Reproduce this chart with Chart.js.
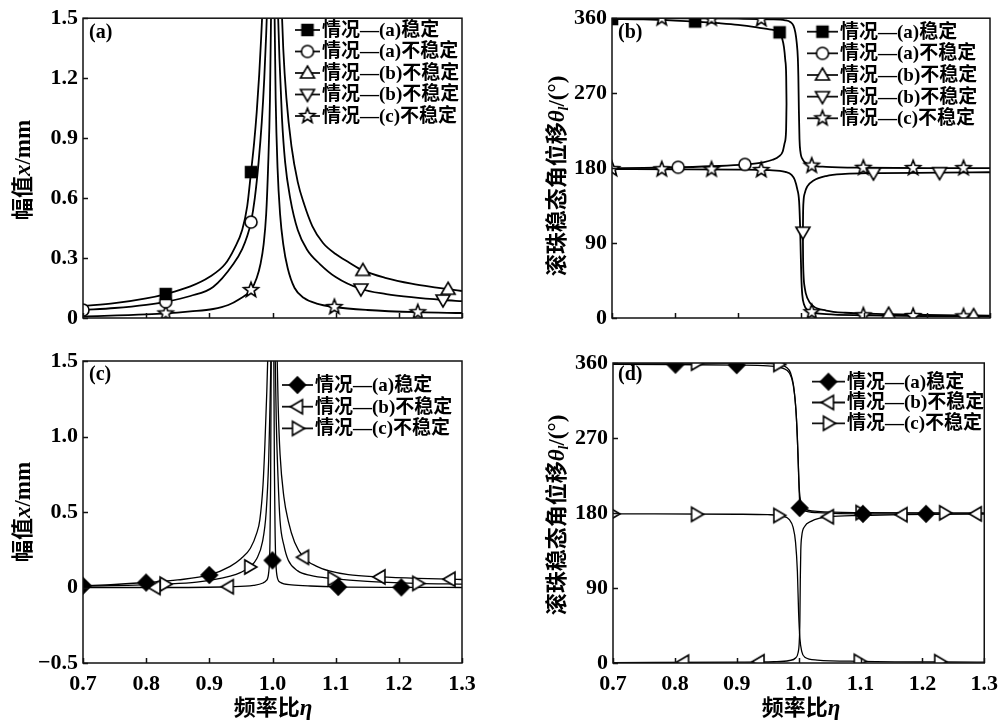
<!DOCTYPE html>
<html>
<head>
<meta charset="utf-8">
<script src="https://cdn.jsdelivr.net/npm/chart.js@4.4.1/dist/chart.umd.min.js"></script>
<style>
  html, body { margin: 0; padding: 0; background: #fff; }
  #wrap { position: relative; width: 1006px; height: 721px; overflow: hidden; }
  canvas { position: absolute; }
</style>
</head>
<body>
<div id="wrap">
  <canvas id="chartA" width="503" height="340" style="left:0;top:0"></canvas>
  <canvas id="chartB" width="503" height="340" style="left:503px;top:0"></canvas>
  <canvas id="chartC" width="503" height="381" style="left:0;top:340px"></canvas>
  <canvas id="chartD" width="503" height="381" style="left:503px;top:340px"></canvas>
</div>
<script>
// axis ticks
const etaTicks = [0.7, 0.8, 0.9, 1.0, 1.1, 1.2, 1.3];
const ampTicksA = [0, 0.3, 0.6, 0.9, 1.2, 1.5];
const ampTicksC = [-0.5, 0, 0.5, 1.0, 1.5];
const phaseTicks = [0, 90, 180, 270, 360];

const labelsAB = ['情况—(a)稳定', '情况—(a)不稳定', '情况—(b)不稳定', '情况—(b)不稳定', '情况—(c)不稳定'];
const labelsCD = ['情况—(a)稳定', '情况—(b)不稳定', '情况—(c)不稳定'];

// (a) amplitude x/mm vs eta
const ampA_aStable = [[0.7,0.060],[0.75,0.074],[0.8,0.098],[0.831,0.120],[0.87,0.158],[0.9,0.205],[0.925,0.27],[0.94,0.35],[0.952,0.44],[0.96,0.56],[0.966,0.73],[0.971,0.88],[0.975,1.03],[0.979,1.22],[0.982,1.40],[0.985,1.60]];
const ampA_aUnstable = [[0.7,0.040],[0.75,0.050],[0.8,0.066],[0.831,0.081],[0.87,0.110],[0.906,0.155],[0.938,0.27],[0.952,0.345],[0.96,0.41],[0.966,0.48],[0.972,0.60],[0.978,0.78],[0.983,0.98],[0.987,1.20],[0.990,1.42],[0.992,1.60]];
const ampA_bUp = [[1.014,1.60],[1.017,1.35],[1.022,1.10],[1.03,0.86],[1.04,0.68],[1.05,0.57],[1.063,0.46],[1.08,0.375],[1.1,0.32],[1.12,0.28],[1.143,0.238],[1.18,0.20],[1.22,0.172],[1.26,0.152],[1.278,0.144],[1.3,0.135]];
const ampA_bDown = [[1.008,1.60],[1.011,1.30],[1.015,1.00],[1.02,0.78],[1.028,0.60],[1.04,0.44],[1.055,0.34],[1.075,0.27],[1.1,0.205],[1.14,0.145],[1.18,0.12],[1.22,0.104],[1.27,0.090],[1.3,0.084]];
const ampA_cLeft = [[0.7,0.008],[0.8,0.018],[0.831,0.023],[0.87,0.033],[0.906,0.045],[0.93,0.065],[0.948,0.095],[0.966,0.14],[0.975,0.20],[0.981,0.27],[0.986,0.37],[0.99,0.52],[0.993,0.75],[0.996,1.10],[0.998,1.60]];
const ampA_cRight = [[1.003,1.60],[1.005,1.10],[1.008,0.75],[1.012,0.52],[1.017,0.37],[1.024,0.25],[1.035,0.15],[1.05,0.10],[1.07,0.072],[1.098,0.055],[1.15,0.040],[1.23,0.029],[1.3,0.025]];
const ampA_aStableMk = [[0.831,0.12],[0.966,0.73]];
const ampA_aUnstableMk = [[0.7,0.040],[0.831,0.081],[0.966,0.48]];
const ampA_bUpMk = [[1.143,0.238],[1.278,0.144]];
const ampA_bDownMk = [[1.14,0.145],[1.27,0.090]];
const ampA_cMk = [[0.831,0.023],[0.966,0.14],[1.098,0.055],[1.23,0.029]];

// (b) phase theta_l vs eta
const phB_aStable = [[0.7,359],[0.75,358.5],[0.8,357.2],[0.832,356],[0.87,354],[0.9,352],[0.93,349],[0.95,346.5],[0.966,343],[0.970,336],[0.973,325],[0.975,310],[0.9765,290],[0.977,257]];
const phB_aUnstable = [[0.7,180],[0.75,180.3],[0.805,181],[0.87,182.5],[0.911,184.4],[0.94,187],[0.955,190],[0.965,194],[0.971,200],[0.974,210],[0.9763,225],[0.977,257]];
const phB_bDown = [[1.003,100],[1.0033,125],[1.004,140],[1.006,150],[1.01,158],[1.02,165],[1.04,170.5],[1.07,173],[1.115,174],[1.22,174.5],[1.3,175]];
const phB_bUp = [[1.003,100],[1.0033,72],[1.004,52],[1.006,36],[1.01,24],[1.02,14],[1.04,9],[1.07,6.3],[1.139,4.6],[1.2,3.6],[1.274,3],[1.3,2.8]];
const phB_cHigh = [[0.7,360],[0.8,359.8],[0.9,359.4],[0.95,358.7],[0.975,357.5],[0.983,355.5],[0.988,351],[0.991,343],[0.993,332],[0.995,312],[0.9958,290],[0.9966,250],[0.9976,215],[0.999,200],[1.003,190],[1.01,185],[1.017,183],[1.04,181.5],[1.1,180.4],[1.2,180],[1.3,180]];
const phB_cLow = [[0.7,178.8],[0.8,178.6],[0.9,178.2],[0.95,177.5],[0.975,175.5],[0.985,172],[0.99,166],[0.994,155],[0.997,140],[0.9985,112],[0.9995,80],[1.0005,50],[1.002,28],[1.005,16],[1.01,10],[1.017,7],[1.04,4.6],[1.1,3.2],[1.2,2.2],[1.3,1.8]];
const phB_aStableMk = [[0.7,359],[0.832,356],[0.966,343]];
const phB_aUnstableMk = [[0.805,181],[0.911,184.4]];
const phB_bUpMk = [[1.139,4.6],[1.274,3]];
const phB_bDownMk = [[1.003,103],[1.115,174],[1.22,174.5]];
const phB_cMk = [[0.779,359.8],[0.858,359.6],[0.937,358.9],[1.017,183],[1.099,180.4],[1.178,180.1],[1.258,180],
                 [0.7,178.8],[0.779,178.6],[0.858,178.4],[0.937,177.7],[1.017,7],[1.099,3.2],[1.178,2.4],[1.258,2]];

// (c) amplitude x/mm vs eta
const ampC_aLeft = [[0.7,0.012],[0.75,0.02],[0.8,0.033],[0.85,0.05],[0.9,0.083],[0.933,0.14],[0.95,0.19],[0.965,0.26],[0.975,0.36],[0.98,0.45],[0.985,0.68],[0.988,0.95],[0.991,1.30],[0.993,1.60]];
const ampC_aRight = [[1.002,1.60],[1.003,0.80],[1.004,0.40],[1.005,0.20],[1.007,0.08],[1.012,0.035],[1.03,0.018],[1.06,0.010],[1.104,0.004],[1.2,0.001],[1.3,0.0]];
const ampC_bLeft = [[0.7,0.0],[0.814,0.0],[0.93,0.005],[0.97,0.014],[0.985,0.03],[0.99,0.045],[0.994,0.10],[0.996,0.30],[0.997,0.70],[0.998,1.60]];
const ampC_bRight = [[1.007,1.60],[1.009,1.20],[1.012,0.88],[1.018,0.60],[1.025,0.44],[1.035,0.30],[1.049,0.20],[1.07,0.14],[1.09,0.11],[1.12,0.085],[1.17,0.07],[1.23,0.06],[1.281,0.055],[1.3,0.053]];
const ampC_cLeft = [[0.7,0.008],[0.83,0.022],[0.88,0.035],[0.933,0.075],[0.95,0.10],[0.964,0.136],[0.975,0.19],[0.984,0.30],[0.99,0.50],[0.994,0.85],[0.996,1.20],[0.998,1.60]];
const ampC_cRight = [[1.004,1.60],[1.006,1.10],[1.009,0.70],[1.012,0.44],[1.018,0.28],[1.025,0.18],[1.04,0.11],[1.06,0.08],[1.096,0.059],[1.15,0.04],[1.23,0.027],[1.3,0.022]];
const ampC_aMk = [[0.7,0.012],[0.8,0.033],[0.9,0.083],[1.0,0.18],[1.104,0.004],[1.204,0.001]];
const ampC_bMk = [[0.814,0.0],[0.93,0.005],[1.049,0.20],[1.17,0.07],[1.281,0.055]];
const ampC_cMk = [[0.83,0.022],[0.964,0.136],[1.096,0.059],[1.23,0.027]];

// (d) phase theta_l vs eta
const phD_a = [[0.7,358.5],[0.8,358],[0.9,357.5],[0.95,356.5],[0.975,353.5],[0.985,348],[0.991,335],[0.995,310],[0.998,270],[1.0,225],[1.0015,196],[1.004,187],[1.01,182.5],[1.03,180.5],[1.1,179],[1.3,179]];
const phD_cHigh = [[0.7,360],[0.9,359.8],[0.95,359.3],[0.97,358],[0.98,355],[0.987,348],[0.992,332],[0.996,300],[0.999,250],[1.001,210],[1.004,192],[1.01,185],[1.03,182],[1.1,180.5],[1.3,180]];
const phD_cLow = [[0.7,179],[0.9,178.5],[0.95,178],[0.975,176],[0.985,172],[0.991,163],[0.995,145],[0.998,110],[1.0,60],[1.002,30],[1.005,14],[1.01,7],[1.03,3.5],[1.1,2],[1.3,1]];
const phD_b = [[0.7,0.5],[0.9,1],[0.96,1.5],[0.985,3],[0.995,6],[0.999,12],[1.001,25],[1.002,50],[1.0027,100],[1.0035,135],[1.005,152],[1.01,164],[1.02,170],[1.035,174],[1.048,175.5],[1.1,177],[1.167,178],[1.3,179]];
const phD_aMk = [[0.801,358],[0.9,357.5],[1.0017,186],[1.104,179],[1.206,179]];
const phD_bMk = [[0.814,1],[0.936,1.5],[1.048,175.5],[1.167,178],[1.287,179]];
const phD_cMk = [[0.7,179],[0.835,359.8],[0.968,358.3],[0.835,178.4],[0.968,177],[1.101,180.5],[1.236,180.2],[1.098,2],[1.228,1.5]];

// marker glyphs, drawn once into small canvases
const MS = 22;
function makeMark(kind) {
  const c = document.createElement('canvas');
  c.width = c.height = MS;
  const g = c.getContext('2d');
  g.translate(MS / 2, MS / 2);
  g.lineWidth = 1.6;
  g.strokeStyle = '#000';
  let filled = false;
  g.beginPath();
  if (kind === 'sq') { g.rect(-5.5, -5.5, 11, 11); filled = true; }
  else if (kind === 'ci') { g.arc(0, 0, 6, 0, Math.PI * 2); }
  else if (kind === 'di') { g.moveTo(0, -8); g.lineTo(8, 0); g.lineTo(0, 8); g.lineTo(-8, 0); g.closePath(); filled = true; }
  else if (kind === 'st') {
    for (let i = 0; i < 10; i++) {
      const r = i % 2 ? 3.3 : 7.8;
      const a = -Math.PI / 2 + i * Math.PI / 5;
      g.lineTo(r * Math.cos(a), r * Math.sin(a));
    }
    g.closePath();
  } else {
    g.rotate({ tu: 0, tr: 90, td: 180, tl: 270 }[kind] * Math.PI / 180);
    g.moveTo(0, -7); g.lineTo(7, 5); g.lineTo(-7, 5); g.closePath();
  }
  g.fillStyle = filled ? '#000' : '#fff';
  g.fill();
  g.stroke();
  return c;
}
const MARK = {};
['sq', 'ci', 'tu', 'td', 'tl', 'tr', 'st', 'di'].forEach(k => { MARK[k] = makeMark(k); });

const pts = a => a.map(p => ({ x: p[0], y: p[1] }));

function buildDatasets(series, lw) {
  const ds = [];
  series.forEach(s => {
    s.curves.forEach(c => ds.push({
      data: pts(c), showLine: true, borderColor: '#000', borderWidth: lw,
      pointRadius: 0, cubicInterpolationMode: 'monotone', fill: false, order: 2
    }));
    ds.push({ data: pts(s.marks), showLine: false, pointStyle: MARK[s.mark], pointRadius: 9, order: 1 });
  });
  return ds;
}

const CJK = 'bold 22px "Noto Sans CJK SC", sans-serif';
const SERIF = 'bold 23px "Liberation Serif", serif';
const ITAL = 'italic bold 23px "Liberation Serif", serif';
const LEG_FONT = 'bold 19px "Liberation Serif", "Noto Sans CJK SC", serif';
const TAG_FONT = 'bold 20px "Liberation Serif", serif';
const TICK_FONT = { family: '"Liberation Serif", serif', size: 22, weight: 'bold' };

const titleAmp = [{ t: '幅值', f: CJK }, { t: 'x', f: ITAL }, { t: '/mm', f: SERIF }];
const titlePhase = [{ t: '滚珠稳态角位移', f: CJK }, { t: 'θ', f: ITAL },
                    { t: 'l', f: 'italic bold 14px "Liberation Serif", serif', dy: 4 }, { t: '/(°)', f: SERIF }];
const titleEta = [{ t: '频率比', f: CJK }, { t: 'η', f: ITAL }];

const DECOR = {
  chartA: { tag: '(a)', tagX: 89, tagY: 33, yTicks: ampTicksA,
    legend: { x0: 295, x1: 320, tx: 322, y0: 30, dy: 21.5, kinds: ['sq', 'ci', 'tu', 'td', 'st'], labels: labelsAB },
    yTitle: { segs: titleAmp, cx: 22, cy: 170 } },
  chartB: { tag: '(b)', tagX: 115, tagY: 33, yTicks: phaseTicks,
    legend: { x0: 304, x1: 335, tx: 337, y0: 31.7, dy: 21.65, kinds: ['sq', 'ci', 'tu', 'td', 'st'], labels: labelsAB },
    yTitle: { segs: titlePhase, cx: 53, cy: 176 } },
  chartC: { tag: '(c)', tagX: 89, tagY: 35, yTicks: ampTicksC,
    legend: { x0: 282, x1: 313, tx: 315, y0: 45, dy: 21.7, kinds: ['di', 'tl', 'tr'], labels: labelsCD },
    yTitle: { segs: titleAmp, cx: 22, cy: 172 },
    xTitle: { segs: titleEta, cx: 273, cy: 367 } },
  chartD: { tag: '(d)', tagX: 115, tagY: 35, yTicks: phaseTicks,
    legend: { x0: 309, x1: 342, tx: 344, y0: 41.7, dy: 20.8, kinds: ['di', 'tl', 'tr'], labels: labelsCD },
    yTitle: { segs: titlePhase, cx: 53, cy: 175 },
    xTitle: { segs: titleEta, cx: 298, cy: 367 } }
};

function richText(ctx, segs, cx, cy, rotate) {
  ctx.save();
  ctx.translate(cx, cy);
  if (rotate) ctx.rotate(-Math.PI / 2);
  let w = 0;
  segs.forEach(s => { ctx.font = s.f; w += ctx.measureText(s.t).width; });
  let x = -w / 2;
  ctx.textBaseline = 'alphabetic';
  ctx.fillStyle = '#000';
  segs.forEach(s => {
    ctx.font = s.f;
    ctx.fillText(s.t, x, 8 + (s.dy || 0));
    x += ctx.measureText(s.t).width;
  });
  ctx.restore();
}

// frame, inward ticks, panel tag, legend and axis titles
const panelDecor = {
  id: 'panelDecor',
  afterDraw(chart) {
    const d = DECOR[chart.canvas.id];
    if (!d) return;
    const ctx = chart.ctx, a = chart.chartArea;
    const xs = chart.scales.x, ys = chart.scales.y;
    ctx.save();
    ctx.strokeStyle = '#111';
    ctx.lineWidth = 1.5;
    ctx.beginPath();
    etaTicks.forEach(v => {
      const px = Math.round(xs.getPixelForValue(v)) + 0.5;
      ctx.moveTo(px, a.bottom); ctx.lineTo(px, a.bottom - 5);
    });
    d.yTicks.forEach(v => {
      const py = Math.round(ys.getPixelForValue(v)) + 0.5;
      ctx.moveTo(a.left, py); ctx.lineTo(a.left + 5, py);
    });
    ctx.stroke();
    ctx.strokeRect(a.left, a.top, a.right - a.left, a.bottom - a.top);

    ctx.fillStyle = '#000';
    ctx.font = TAG_FONT;
    ctx.textBaseline = 'middle';
    ctx.textAlign = 'left';
    ctx.fillText(d.tag, d.tagX, d.tagY);

    const L = d.legend;
    L.kinds.forEach((k, i) => {
      const y = L.y0 + i * L.dy;
      ctx.lineWidth = 1.8;
      ctx.beginPath();
      ctx.moveTo(L.x0, y); ctx.lineTo(L.x1, y);
      ctx.stroke();
      ctx.drawImage(MARK[k], (L.x0 + L.x1) / 2 - MS / 2, y - MS / 2);
      ctx.font = LEG_FONT;
      ctx.fillText(L.labels[i], L.tx, y + 1);
    });

    richText(ctx, d.yTitle.segs, d.yTitle.cx, d.yTitle.cy, true);
    if (d.xTitle) richText(ctx, d.xTitle.segs, d.xTitle.cx, d.xTitle.cy, false);
    ctx.restore();
  }
};
Chart.register(panelDecor);

function makeChart(id, series, lw, yTicks, fmt, o) {
  return new Chart(document.getElementById(id), {
    type: 'scatter',
    data: { datasets: buildDatasets(series, lw) },
    options: {
      responsive: false,
      animation: false,
      layout: { padding: o.pad },
      plugins: { legend: { display: false }, tooltip: { enabled: false } },
      scales: {
        x: {
          type: 'linear', min: 0.7, max: 1.3,
          grid: { display: false, drawTicks: false }, border: { display: false },
          afterBuildTicks: s => { s.ticks = etaTicks.map(v => ({ value: v })); },
          afterFit: s => { s.height = o.xH; },
          ticks: { display: o.showX, padding: 8, font: TICK_FONT, color: '#000', autoSkip: false, maxRotation: 0,
                   callback: v => v.toFixed(1) }
        },
        y: {
          type: 'linear', min: yTicks[0], max: yTicks[yTicks.length - 1],
          grid: { display: false, drawTicks: false }, border: { display: false },
          afterBuildTicks: s => { s.ticks = yTicks.map(v => ({ value: v })); },
          afterFit: s => { s.width = o.yW; },
          ticks: { padding: 5, font: TICK_FONT, color: '#000', autoSkip: false, callback: fmt }
        }
      }
    }
  });
}

const fmtAmp = v => v === 0 ? '0' : (v < 0 ? '−' + Math.abs(v).toFixed(1) : v.toFixed(1));
const fmtDeg = v => String(v);

makeChart('chartA', [
  { mark: 'sq', curves: [ampA_aStable], marks: ampA_aStableMk },
  { mark: 'ci', curves: [ampA_aUnstable], marks: ampA_aUnstableMk },
  { mark: 'tu', curves: [ampA_bUp], marks: ampA_bUpMk },
  { mark: 'td', curves: [ampA_bDown], marks: ampA_bDownMk },
  { mark: 'st', curves: [ampA_cLeft, ampA_cRight], marks: ampA_cMk }
], 1.8, ampTicksA, fmtAmp, { pad: { top: 15, right: 41, left: 0, bottom: 0 }, yW: 83, xH: 22, showX: false });

makeChart('chartB', [
  { mark: 'sq', curves: [phB_aStable], marks: phB_aStableMk },
  { mark: 'ci', curves: [phB_aUnstable], marks: phB_aUnstableMk },
  { mark: 'tu', curves: [phB_bUp], marks: phB_bUpMk },
  { mark: 'td', curves: [phB_bDown], marks: phB_bDownMk },
  { mark: 'st', curves: [phB_cHigh, phB_cLow], marks: phB_cMk }
], 1.8, phaseTicks, fmtDeg, { pad: { top: 16, right: 16, left: 0, bottom: 0 }, yW: 109, xH: 22, showX: false });

makeChart('chartC', [
  { mark: 'di', curves: [ampC_aLeft, ampC_aRight], marks: ampC_aMk },
  { mark: 'tl', curves: [ampC_bLeft, ampC_bRight], marks: ampC_bMk },
  { mark: 'tr', curves: [ampC_cLeft, ampC_cRight], marks: ampC_cMk }
], 1.3, ampTicksC, fmtAmp, { pad: { top: 21, right: 41, left: 0, bottom: 0 }, yW: 83, xH: 58, showX: true });

makeChart('chartD', [
  { mark: 'di', curves: [phD_a], marks: phD_aMk },
  { mark: 'tl', curves: [phD_b], marks: phD_bMk },
  { mark: 'tr', curves: [phD_cHigh, phD_cLow], marks: phD_cMk }
], 1.3, phaseTicks, fmtDeg, { pad: { top: 23, right: 16, left: 0, bottom: 0 }, yW: 110, xH: 58, showX: true });
</script>
</body>
</html>
